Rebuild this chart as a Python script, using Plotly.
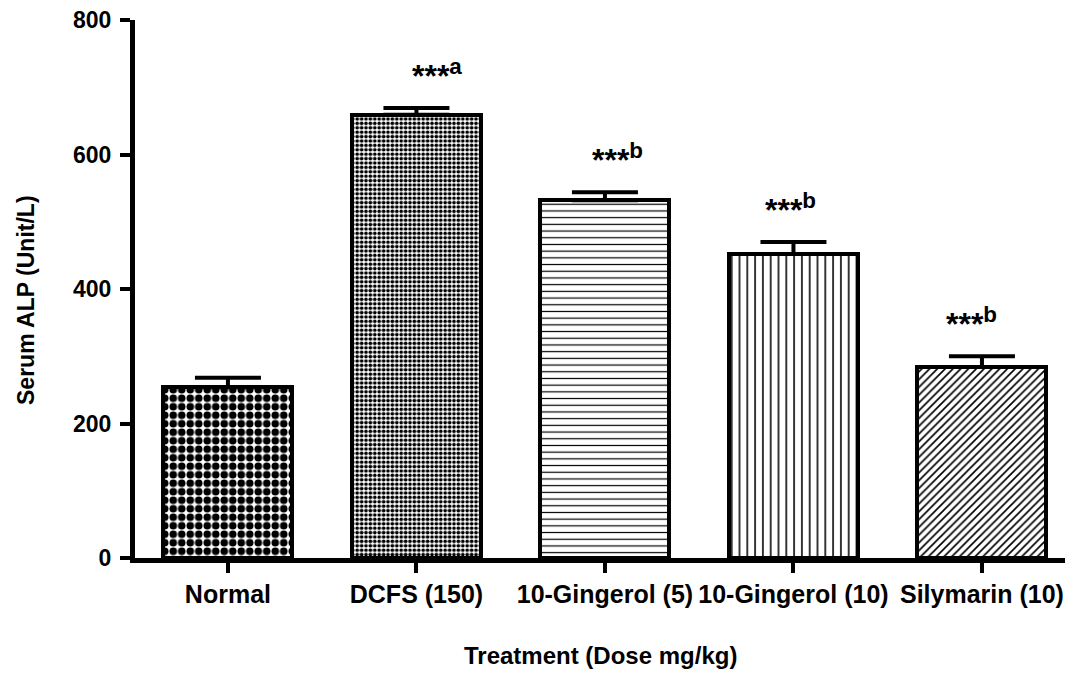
import plotly.graph_objects as go

categories = ["Normal", "DCFS (150)", "10-Gingerol (5)", "10-Gingerol (10)", "Silymarin (10)"]
means = [254, 659, 532, 452, 284]
errors = [14, 10, 12, 18, 16]
sig_labels = ["", "***<sup>a</sup>", "***<sup>b</sup>", "***<sup>b</sup>", "***<sup>b</sup>"]
y_ticks = [0, 200, 400, 600, 800]
x_title = "Treatment (Dose mg/kg)"
y_title = "Serum ALP (Unit/L)"

pattern_shapes = [".", ".", "-", "|", "/"]
pattern_sizes = [8.5, 4.4, 6.7, 7.8, 5.5]
pattern_solid = [0.62, 0.55, 0.18, 0.2, 0.3]

FONT = "Liberation Sans, Arial"
xpos = list(range(len(categories)))

# page has an 8px body margin; figure sized to fit in the 1073x673 window
W, H = 1065, 665
L, T, B = 127, 12, 115
PW, PH = W - L, H - T - B
OX = 8  # page offset

fig = go.Figure()
fig.add_trace(go.Bar(
    x=xpos, y=means, width=0.684,
    marker=dict(
        color="white",
        line=dict(color="black", width=4),
        pattern=dict(shape=pattern_shapes, size=pattern_sizes, solidity=pattern_solid,
                     fgcolor="black", bgcolor="white", fillmode="replace"),
    ),
    error_y=dict(type="data", array=errors, arrayminus=[0] * len(errors), symmetric=False,
                 thickness=4, width=33, color="black"),
    showlegend=False,
))

xshifts = [0, 21, 13, -3, -10]
for i, lab in enumerate(sig_labels):
    if not lab:
        continue
    fig.add_annotation(
        x=xpos[i], y=means[i] + errors[i], text=lab, showarrow=False,
        yanchor="bottom", xanchor="center", yshift=12, xshift=xshifts[i],
        font=dict(family=FONT, size=32, color="black", weight=700),
    )

fig.add_annotation(
    xref="paper", yref="paper", x=(600 - OX - L) / PW, y=-(655 - 558) / PH,
    text=x_title, showarrow=False, xanchor="center", yanchor="middle",
    font=dict(family=FONT, size=24, color="black", weight=700),
)
fig.add_annotation(
    xref="paper", yref="paper", x=-(OX + L - 26) / PW, y=(558 - 300) / PH,
    text=y_title, showarrow=False, xanchor="center", yanchor="middle", textangle=-90,
    font=dict(family=FONT, size=23, color="black", weight=700),
)

fig.update_layout(
    width=W, height=H,
    margin=dict(l=L, r=0, t=T, b=B),
    plot_bgcolor="white", paper_bgcolor="white",
    bargap=0,
    xaxis=dict(
        range=[-0.493, 4.483], tickmode="array", tickvals=xpos, ticktext=categories,
        showline=True, linewidth=5, linecolor="black", ticks="outside", ticklen=10,
        tickwidth=4, tickcolor="black", showgrid=False, zeroline=False, automargin=False,
        tickfont=dict(family=FONT, size=25, color="black", weight=700),
    ),
    yaxis=dict(
        range=[0, 800], tickmode="array", tickvals=y_ticks,
        showline=True, linewidth=5, linecolor="black", ticks="outside", ticklen=10,
        tickwidth=4, tickcolor="black", showgrid=False, zeroline=False, automargin=False,
        ticklabelstandoff=4, ticklabeloverflow="allow",
        tickfont=dict(family=FONT, size=23, color="black", weight=700),
    ),
)

fig.write_html("out.html")
